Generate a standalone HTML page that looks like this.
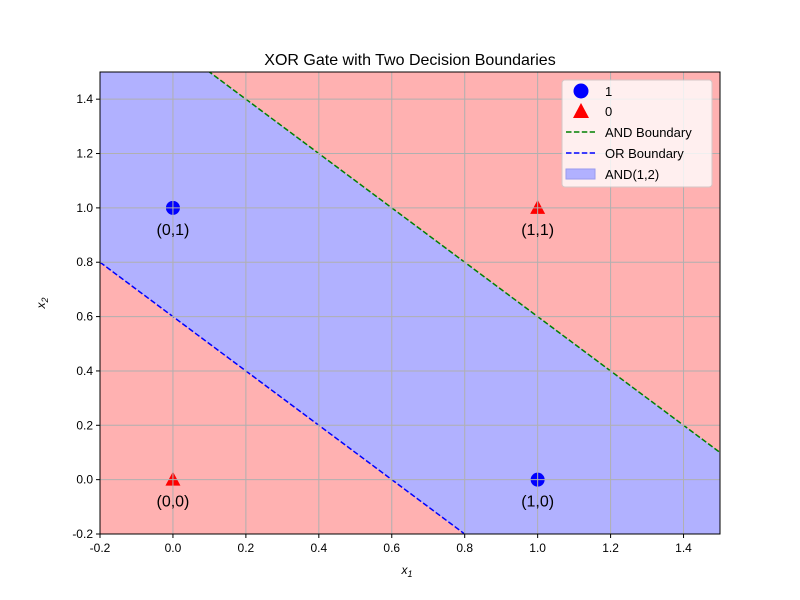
<!DOCTYPE html>
<html><head><meta charset="utf-8"><style>
html,body{margin:0;padding:0;background:#fff;overflow:hidden;width:800px;height:600px}
svg{display:block;font-family:"Liberation Sans","DejaVu Sans",sans-serif}
</style></head><body>
<svg id="c" width="800" height="600" xmlns="http://www.w3.org/2000/svg"></svg>
<script>
const xTicks=[-0.2,0,0.2,0.4,0.6,0.8,1.0,1.2,1.4];
const yTicks=[-0.2,0,0.2,0.4,0.6,0.8,1.0,1.2,1.4];
const ptX=[0,1,0,1];
const ptY=[1,0,0,1];
const ptClass=[1,1,0,0];
const ptLabel=["(0,1)","(1,0)","(0,0)","(1,1)"];
const andC=1.6, orC=0.6;
const xMin=-0.2,xMax=1.5,yMin=-0.2,yMax=1.5;
const L=100,R=720,T=72,B=534;
const sx=v=>L+(v-xMin)/(xMax-xMin)*(R-L);
const sy=v=>B-(v-yMin)/(yMax-yMin)*(B-T);
const svg=document.getElementById('c');
const NS='http://www.w3.org/2000/svg';
function mk(t,a,p){const e=document.createElementNS(NS,t);for(const k in a)e.setAttribute(k,a[k]);(p||svg).appendChild(e);return e;}
let e;
const defs=mk('defs',{});const cp=mk('clipPath',{id:'cl'},defs);mk('rect',{x:L,y:T,width:R-L,height:B-T},cp);
const g=mk('g',{'clip-path':'url(#cl)'});
e=mk('rect',{x:L,y:T,width:R-L,height:B-T,fill:'#ffb1b1'},g);

const band=[[xMin,orC-xMin],[xMin,andC-xMin],[xMax,andC-xMax],[xMax,orC-xMax]].map(p=>sx(p[0])+','+sy(p[1])).join(' ');
e=mk('polygon',{points:band,fill:'#b1b1ff'},g);

e=mk('line',{x1:sx(xMin),y1:sy(andC-xMin),x2:sx(xMax),y2:sy(andC-xMax),stroke:'green','stroke-width':1.5,'stroke-dasharray':'5.5,2.4'},g);

e=mk('line',{x1:sx(xMin),y1:sy(orC-xMin),x2:sx(xMax),y2:sy(orC-xMax),stroke:'blue','stroke-width':1.5,'stroke-dasharray':'5.5,2.4'},g);

ptX.forEach((x,i)=>{const cx=sx(x),cy=sy(ptY[i]);
 if(ptClass[i]===1){e=mk('circle',{cx:cx,cy:cy,r:7,fill:'blue'});}
 else{e=mk('polygon',{points:`${cx},${cy-8} ${cx-7.5},${cy+6} ${cx+7.5},${cy+6}`,fill:'red'});}
 
});
const g2=mk('g',{'clip-path':'url(#cl)'});
xTicks.forEach(v=>{e=mk('line',{x1:sx(v),x2:sx(v),y1:T,y2:B,stroke:'#b0b0b0','stroke-width':1},g2);});
yTicks.forEach(v=>{e=mk('line',{x1:L,x2:R,y1:sy(v),y2:sy(v),stroke:'#b0b0b0','stroke-width':1},g2);});
ptX.forEach((x,i)=>{const cx=sx(x),cy=sy(ptY[i]);
 e=mk('text',{x:cx,y:cy+27,'text-anchor':'middle','font-size':16});e.textContent=ptLabel[i];
 
});
e=mk('rect',{x:L,y:T,width:R-L,height:B-T,fill:'none',stroke:'#000','stroke-width':1});

xTicks.forEach(v=>{mk('line',{x1:sx(v),x2:sx(v),y1:B,y2:B+4,stroke:'#000'});
 e=mk('text',{x:sx(v),y:B+18,'text-anchor':'middle','font-size':12});e.textContent=v.toFixed(1);
 });
yTicks.forEach(v=>{mk('line',{x1:L-4,x2:L,y1:sy(v),y2:sy(v),stroke:'#000'});
 e=mk('text',{x:L-7,y:sy(v)+4,'text-anchor':'end','font-size':12});e.textContent=v.toFixed(1);
 });
e=mk('text',{x:410,y:65,'text-anchor':'middle','font-size':16});e.textContent='XOR Gate with Two Decision Boundaries';

e=mk('text',{x:407,y:574,'text-anchor':'middle','font-size':12,'font-style':'italic'});e.innerHTML='x<tspan font-size="9" dy="3">1</tspan>';

e=mk('text',{x:0,y:0,'text-anchor':'middle','font-size':12,'font-style':'italic',transform:'translate(45,303) rotate(-90)'});e.innerHTML='x<tspan font-size="9" dy="3">2</tspan>';

const lg=mk('g',{});
mk('rect',{x:562,y:80,width:150,height:107,rx:3,fill:'#fff',opacity:0.8,stroke:'#ccc'},lg);
const ly=[91,111,132,153,174];const names=['1','0','AND Boundary','OR Boundary','AND(1,2)'];
mk('circle',{cx:581,cy:ly[0],r:7.5,fill:'blue'},lg);
mk('polygon',{points:`581,${ly[1]-8} 573,${ly[1]+7} 589,${ly[1]+7}`,fill:'red'},lg);
mk('line',{x1:566,x2:595,y1:ly[2],y2:ly[2],stroke:'green','stroke-width':1.5,'stroke-dasharray':'5.5,2.4'},lg);
mk('line',{x1:566,x2:595,y1:ly[3],y2:ly[3],stroke:'blue','stroke-width':1.5,'stroke-dasharray':'5.5,2.4'},lg);
mk('rect',{x:566,y:ly[4]-5,width:29,height:10,fill:'#b1b1ff',stroke:'#9a9aee'},lg);
names.forEach((n,i)=>{e=mk('text',{x:605,y:ly[i]+5,'font-size':13},lg);e.textContent=n;
 });
</script>
</body></html>
